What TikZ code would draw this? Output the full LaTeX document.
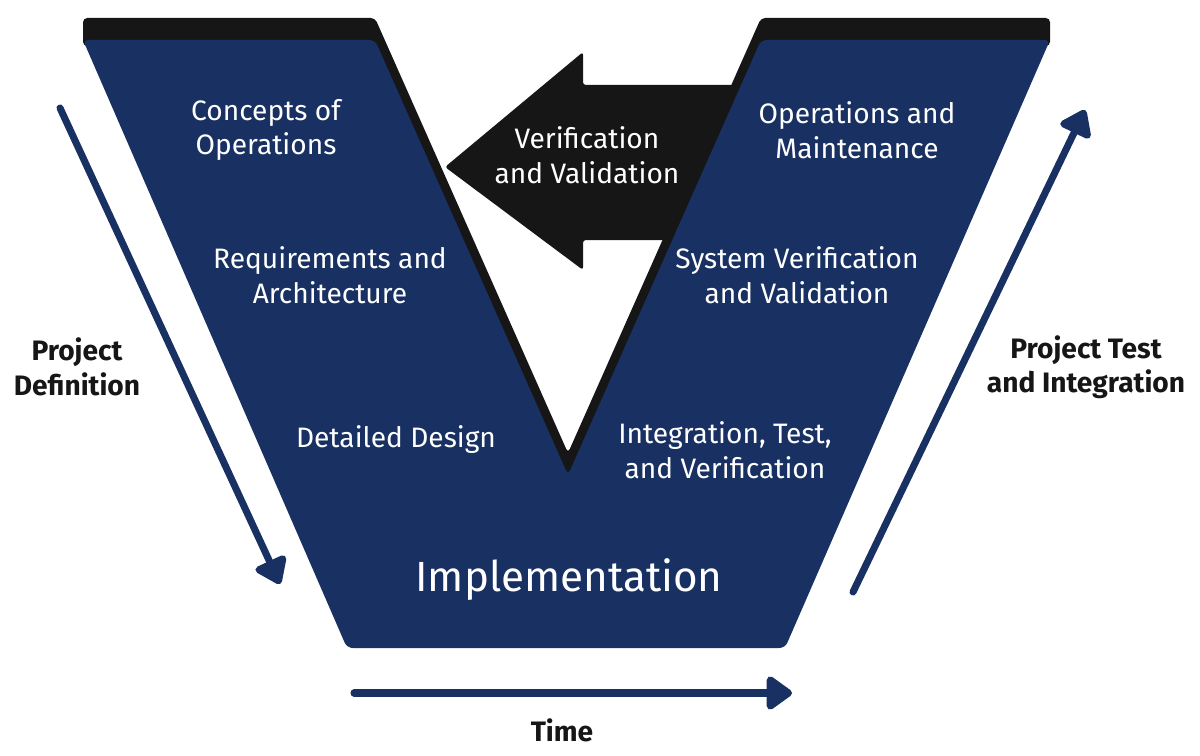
\documentclass[tikz,border=0pt]{standalone}
\usepackage{fontspec}
\setmainfont{Fira Sans}
\usetikzlibrary{arrows.meta}

\definecolor{vnavy}{RGB}{24,49,98}
\definecolor{vblack}{RGB}{22,22,22}

\tikzset{
  phase/.style={text=white, align=center, font=\fontsize{20}{24.5}\selectfont},
  side/.style={text=vblack, align=center, font=\bfseries\fontsize{20}{24.5}\selectfont},
  flow/.style={vnavy, line width=5pt, line cap=round,
    -{Triangle[length=0.7cm,width=0.95cm,round]}},
}

\begin{document}
\begin{tikzpicture}[x=0.025cm,y=-0.025cm]
\useasboundingbox (0,0) rectangle (1200,755);
% black arrow, under the V
\fill[vblack,rounded corners=2pt] (445,167) -- (583,52) -- (583,85) -- (790,85) -- (790,240) -- (583,240) -- (583,270) -- cycle;
% black edge of the V
\fill[vblack,rounded corners=3pt] (83,18) -- (375,18) -- (568,453) -- (761,18) -- (1050,18) -- (1050,46) -- (761,46) -- (568,481) -- (375,46) -- (83,46) -- cycle;
% the V
\fill[vnavy,rounded corners=4pt] (83,40) -- (375,40) -- (568,475) -- (761,40) -- (1050,40) -- (785,648) -- (347,648) -- cycle;

\node[phase] (conops) at (266,130) {Concepts of\\Operations};
\node[phase] (reqs) at (330,275) {Requirements and\\Architecture};
\node[phase] (design) at (396,440) {Detailed Design};
\node[phase,font=\fontsize{30}{36}\selectfont] (impl) at (569,580) {Implementation};
\node[phase] (itv) at (725,450) {Integration, Test,\\and Verification};
\node[phase] (sysvv) at (797,275) {System Verification\\and Validation};
\node[phase] (ops) at (857,130) {Operations and\\Maintenance};
\node[phase] (vv) at (587,155) {Verification\\and Validation};

\node[side] (pdef) at (77,367) {Project\\Definition};
\node[side] (ptest) at (1086,367) {Project Test\\and Integration};
\node[side] (time) at (562,730) {Time};

\coordinate (pdef-s) at (60,108);
\coordinate (pdef-e) at (280,584);
\coordinate (ptest-s) at (853,592);
\coordinate (ptest-e) at (1085,110);
\coordinate (time-s) at (354,693);
\coordinate (time-e) at (792,693);
\draw[flow] (pdef-s) -- (pdef-e);
\draw[flow] (ptest-s) -- (ptest-e);
\draw[flow] (time-s) -- (time-e);
\end{tikzpicture}
\end{document}
